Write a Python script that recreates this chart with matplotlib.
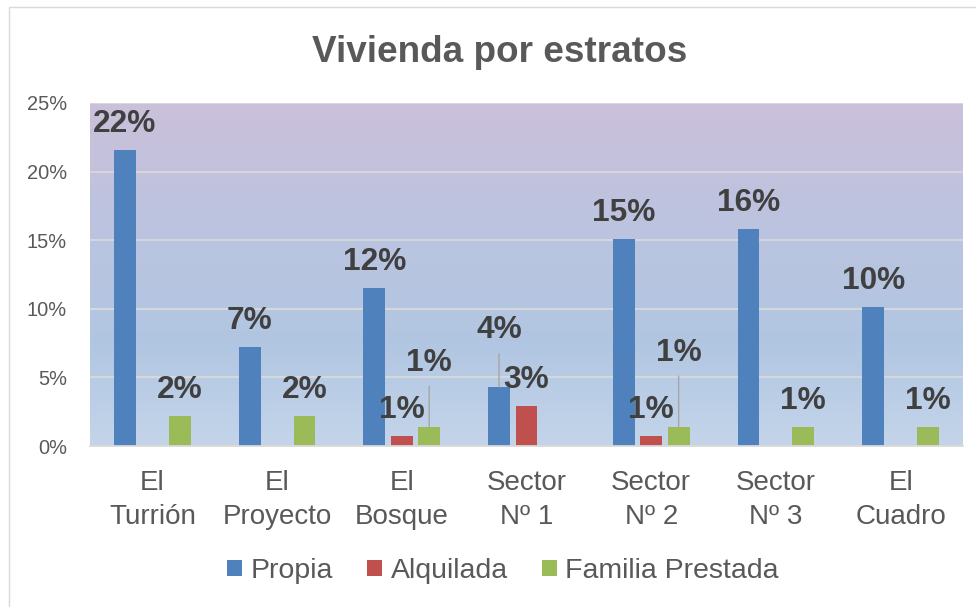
import numpy as np
import matplotlib
matplotlib.use("Agg")
import matplotlib.pyplot as plt
from matplotlib.patches import Patch, Rectangle
from matplotlib.colors import LinearSegmentedColormap

plt.rcParams['font.family'] = ['Liberation Sans', 'DejaVu Sans']

categories = ["El\nTurrión", "El\nProyecto", "El\nBosque", "Sector\nNº 1",
              "Sector\nNº 2", "Sector\nNº 3", "El\nCuadro"]
series_names = ["Propia", "Alquilada", "Familia Prestada"]
propia = [21.6, 7.2, 11.55, 4.3, 15.1, 15.8, 10.1]
alquilada = [0, 0, 0.7, 2.9, 0.7, 0, 0]
familia = [2.2, 2.2, 1.4, 0, 1.4, 1.4, 1.4]
yticks = [0, 5, 10, 15, 20, 25]
ytick_labels = ["0%", "5%", "10%", "15%", "20%", "25%"]
title = "Vivienda por estratos"

colors = ["#4F81BD", "#C0504D", "#9BBB59"]
# label raise above bar top in pixels (default 18); larger ones get leader lines
label_raise_px = {(2, 2): 56, (2, 4): 66, (0, 3): 48.7}
default_raise_px = 18

W, H = 976, 607
fig = plt.figure(figsize=(W / 100, H / 100), dpi=100)
ax = fig.add_axes([90 / W, 1 - 446 / H, 873 / W, 343 / H])

x = np.arange(len(categories))
xlim = (-0.5, len(categories) - 0.5)
ax.set_xlim(*xlim)
ax.set_ylim(0, 25)

# gradient background
cmap = LinearSegmentedColormap.from_list(
    "bg", [(0.0, "#C4D5EA"), (0.3, "#B1C6E2"), (0.6, "#BAC4E0"), (1.0, "#CBC0DA")])
grad = np.linspace(0, 1, 256).reshape(-1, 1)
ax.imshow(grad, extent=(xlim[0], xlim[1], 0, 25), aspect='auto', cmap=cmap,
          origin='lower', zorder=0, interpolation='bilinear')

ax.set_axisbelow(True)
ax.yaxis.grid(True, color="#D9D9D9", lw=1.3)
for s in ["top", "left", "right"]:
    ax.spines[s].set_visible(False)
ax.spines["bottom"].set_color("#D9D9D9")
ax.spines["bottom"].set_linewidth(1.3)

ax.set_yticks(yticks)
ax.set_yticklabels(ytick_labels, fontsize=14.4, color="#595959")
ax.set_xticks(x)
ax.set_xticklabels(categories, fontsize=20, color="#595959", linespacing=1.4)
ax.tick_params(axis='y', length=0, pad=16.5)
ax.tick_params(axis='x', length=0, pad=17.5)

width = 0.176
offsets = [-0.22, 0.0, 0.22]
data = [propia, alquilada, familia]
for si, (vals, col, off) in enumerate(zip(data, colors, offsets)):
    ax.bar(x + off, vals, width=width, color=col, zorder=2, label=series_names[si])
    for ci, v in enumerate(vals):
        if v <= 0:
            continue
        raise_px = label_raise_px.get((si, ci), default_raise_px)
        kw = {}
        if (si, ci) in label_raise_px:
            kw["arrowprops"] = dict(arrowstyle='-', color="#A6A6A6", lw=1.0,
                                    shrinkA=4, shrinkB=0)
        ax.annotate(f"{v:.0f}%", xy=(ci + off, v), xytext=(0, raise_px * 0.72),
                    textcoords="offset points", ha="center", va="baseline",
                    fontsize=22.8, fontweight="bold", color="#404040", zorder=3,
                    **kw)

fig.text(500 / W, 1 - 62 / H, title, ha="center", va="baseline",
         fontsize=26.6, fontweight="bold", color="#595959")

handles = [Patch(facecolor=c, edgecolor='none', label=n) for c, n in zip(colors, series_names)]
leg = fig.legend(handles=handles, loc="center", bbox_to_anchor=(503 / W, 1 - 571 / H),
                 ncol=3, frameon=False, fontsize=20.5, handlelength=0.52, handleheight=0.52,
                 handletextpad=0.3, columnspacing=1.2, borderaxespad=0)
for t in leg.get_texts():
    t.set_color("#595959")

fig.add_artist(Rectangle((9 / W, -0.1), 2, 1 - 7 / H + 0.1, transform=fig.transFigure,
                         fill=False, ec="#D9D9D9", lw=1.0))

fig.savefig("out.png", dpi=100)
